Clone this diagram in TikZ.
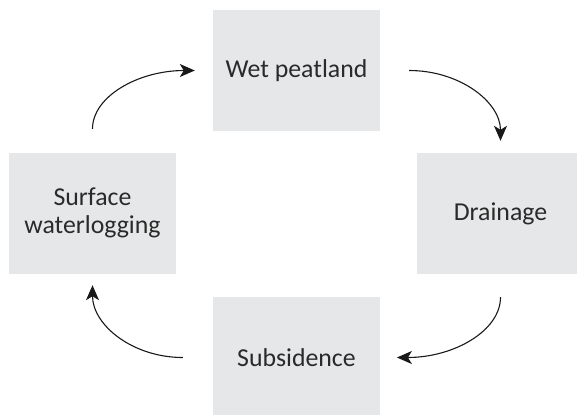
\documentclass[tikz,border=0pt]{standalone}
\usepackage{fontspec}
\setmainfont{Carlito}
\usetikzlibrary{arrows.meta}
\definecolor{boxgray}{HTML}{E6E7E8}
\definecolor{txtgray}{HTML}{2A2A2A}
\begin{document}
\begin{tikzpicture}[x=1bp,y=-1bp,
  box/.style={fill=boxgray, minimum width=167bp, minimum height=121bp, inner sep=0pt,
    text=txtgray, font=\fontsize{25.8bp}{28.5bp}\selectfont, align=center, anchor=center},
  cyc/.style={line width=1.1bp, draw=black!90, -{Stealth[length=15bp,width=13bp,inset=4bp]}}]
\useasboundingbox (0,0) rectangle (577,414);
\clip (0,0) rectangle (577,414);
\node[box] (wet) at (296.5,70.5) {Wet peatland};
\node[box] (surf) at (92.5,213) {Surface\\waterlogging};
\node[box] (drain) at (500.5,213.5) {Drainage};
\node[box] (subs) at (296.5,357.5) {Subsidence};
\draw[cyc] ([yshift=23.5bp]surf.north) .. controls +(0,-32.3) and +(-56.6,0) .. ([xshift=-18bp]wet.west);
\draw[cyc] ([xshift=29bp]wet.east) .. controls +(50.5,0) and +(0,-38.9) .. ([yshift=12bp]drain.north);
\draw[cyc] ([yshift=-23bp]drain.south) .. controls +(0,33.4) and +(57.3,0) .. ([xshift=16.7bp]subs.east);
\draw[cyc] ([xshift=-30bp]subs.west) .. controls +(-50,0) and +(0,40) .. ([yshift=-11.5bp]surf.south);
\end{tikzpicture}
\end{document}
